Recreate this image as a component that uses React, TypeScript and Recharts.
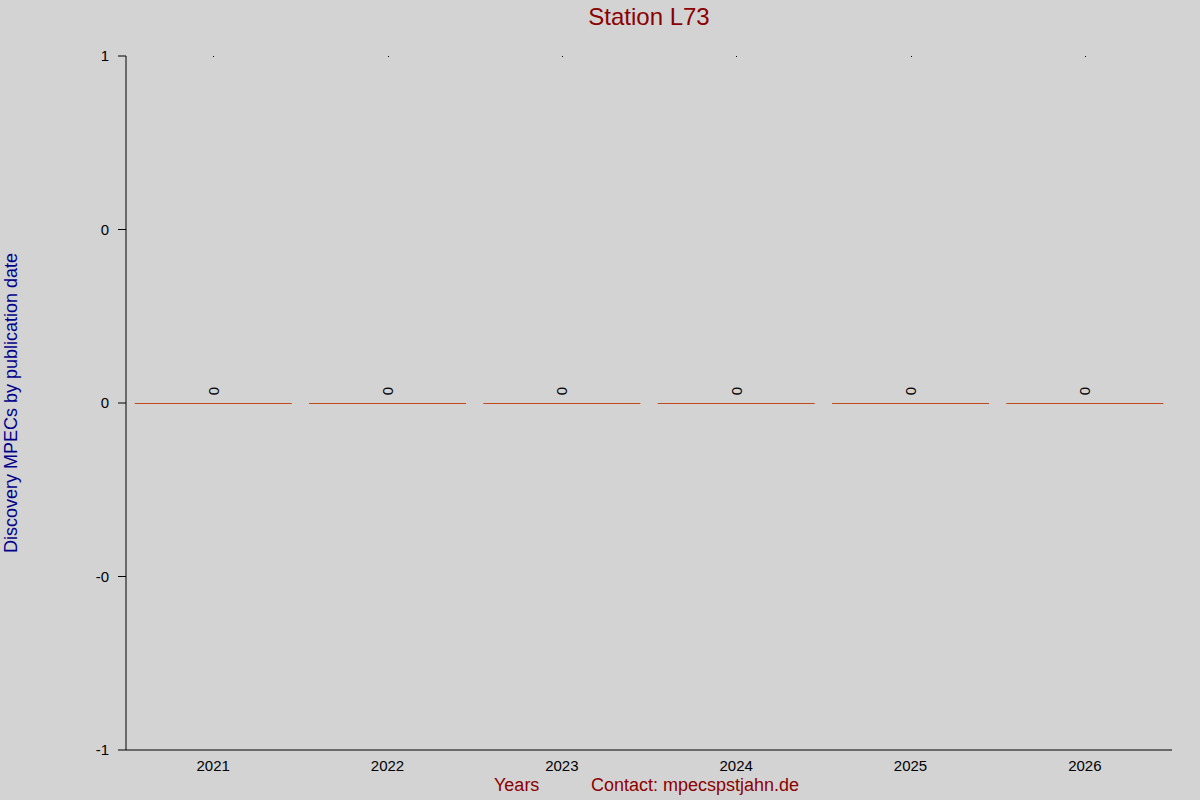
import { Bar, XAxis, YAxis, Scatter, ComposedChart, LabelList } from 'recharts';

const years = ['2021', '2022', '2023', '2024', '2025', '2026'];
const discoveries = [0, 0, 0, 0, 0, 0];
const topMarks = [1, 1, 1, 1, 1, 1];
const yTicks = [-1, -0.5, 0, 0.5, 1];
const yTickLabels = ['-1', '-0', '0', '0', '1'];

const chartData = years.map((year, i) => ({
  year,
  value: discoveries[i],
  top: topMarks[i],
}));

const FONT = '"Liberation Sans", Arial, sans-serif';

// zero-height bars are drawn as a flat line at their baseline
const FlatBar = (props: any) => {
  const { x, y, width, height } = props;
  const yy = Math.round(y + (height || 0)) + 0.5;
  return <line x1={x} x2={x + width} y1={yy} y2={yy} stroke="#c04a1a" strokeWidth={1} />;
};

const RotatedLabel = (props: any) => {
  const { x, y, width, value } = props;
  const cx = x + width / 2;
  const cy = y - 12;
  return (
    <text
      x={cx}
      y={cy}
      transform={`rotate(-90 ${cx} ${cy})`}
      textAnchor="middle"
      dominantBaseline="central"
      fontSize={15}
      fontFamily={FONT}
      fill="#000"
    >
      {value}
    </text>
  );
};

const Dot = (props: any) => <rect x={Math.round(props.cx)} y={Math.round(props.cy)} width={1} height={1} fill="#000" />;

export default function App() {
  return (
    <div style={{ position: 'absolute', left: 0, top: 0, width: 1200, height: 800, background: '#d3d3d3', fontFamily: FONT }}>
      <div style={{ position: 'absolute', left: 0, width: 1298, top: 3, textAlign: 'center', fontSize: 24, color: '#8b0000' }}>
        Station L73
      </div>
      <div
        style={{
          position: 'absolute',
          left: 11,
          top: 403,
          transform: 'translate(-50%, -50%) rotate(-90deg)',
          whiteSpace: 'nowrap',
          fontSize: 18,
          color: '#00008b',
        }}
      >
        Discovery MPECs by publication date
      </div>
      <div style={{ position: 'absolute', left: 494, top: 775, fontSize: 18, color: '#8b0000' }}>Years</div>
      <div style={{ position: 'absolute', left: 591, top: 775, fontSize: 18, color: '#8b0000' }}>Contact: mpecspstjahn.de</div>
      <ComposedChart
        width={1200}
        height={800}
        data={chartData}
        margin={{ top: 56, right: 28, left: 0, bottom: 20 }}
        barCategoryGap="5%"
        style={{ position: 'absolute', left: 0, top: 0 }}
      >
        <XAxis
          dataKey="year"
          height={30}
          axisLine={{ stroke: '#000' }}
          tickLine={false}
          tick={{ fill: '#000', fontSize: 15, fontFamily: FONT }}
          tickMargin={4}
        />
        <YAxis
          width={126}
          domain={[-1, 1]}
          ticks={yTicks}
          tickFormatter={(v: number) => yTickLabels[yTicks.indexOf(v)]}
          axisLine={{ stroke: '#000' }}
          tickLine={{ stroke: '#000' }}
          tickSize={8}
          tick={{ fill: '#000', fontSize: 15, fontFamily: FONT }}
          tickMargin={9}
          allowDataOverflow
        />
        <Bar dataKey="value" shape={FlatBar} isAnimationActive={false}>
          <LabelList dataKey="value" content={RotatedLabel} />
        </Bar>
        <Scatter dataKey="top" shape={Dot} isAnimationActive={false} />
      </ComposedChart>
    </div>
  );
}
